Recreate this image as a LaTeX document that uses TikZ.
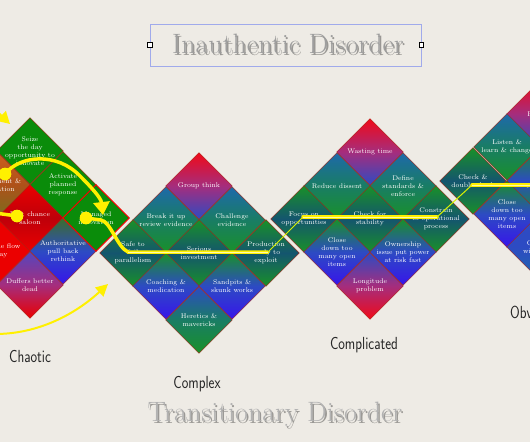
\documentclass[tikz,border=0pt]{standalone}
\usetikzlibrary{shapes.geometric,arrows.meta}
\usepackage{graphicx}

\definecolor{paper}{RGB}{238,235,229}
\definecolor{cR}{RGB}{240,10,25}
\definecolor{cM}{RGB}{165,45,125}
\definecolor{cB}{RGB}{45,75,195}
\definecolor{cV}{RGB}{55,20,235}
\definecolor{cG}{RGB}{25,145,40}
\definecolor{cT}{RGB}{20,85,110}
\definecolor{cTB}{RGB}{30,105,170}
\definecolor{cTG}{RGB}{25,125,100}
\definecolor{cGr}{RGB}{10,140,10}
\definecolor{cRed}{RGB}{235,0,0}
\definecolor{cDRed}{RGB}{190,0,10}
\definecolor{cOr}{RGB}{205,95,30}
\definecolor{cOl}{RGB}{120,110,30}
\definecolor{cOG}{RGB}{60,110,40}
\definecolor{cPB}{RGB}{85,70,190}
\definecolor{yel}{RGB}{255,240,0}
\definecolor{edge}{RGB}{170,35,20}
\definecolor{selblue}{RGB}{160,170,235}

\newcommand\mkcell[6]{%
  \node[cell, sh={#3}{#4}{#5}] (#1) at #2 {};
  \node[ctext] (#1t) at (#1.center) {#6};}

\begin{document}
\begin{tikzpicture}[x=1pt,y=-1pt,
  cell/.style={diamond, minimum width=66.6pt, minimum height=66.6pt, inner sep=0pt, outer sep=0pt,
    draw=edge, line width=0.6pt, draw opacity=0.75},
  sh/.style n args={3}{top color=#1, bottom color=#3, middle color=#2},
  ctext/.style={text=white, align=center, font=\fontsize{6.8}{8.2}\selectfont, inner sep=0pt},
  yl/.style={draw=yel, line width=3.5pt, line cap=round},
  yhl/.style={draw=yel!35!white, line width=1pt},
  ythin/.style={draw=yel!85!green, line width=1pt},
  ydot/.style={circle, fill=yel, minimum size=12.5pt, inner sep=0pt},
  lab/.style={text=black!85, font=\sffamily\fontsize{17.5}{20}\selectfont},
  ttl/.style={font=\fontsize{28}{30}\selectfont, inner sep=0pt}]
\useasboundingbox (0,0) rectangle (530,442);
\clip (0,0) rectangle (530,442);
\fill[paper] (0,0) rectangle (530,442);

% Chaotic
\mkcell{exper}{(-3,185)}{cOr}{cOr!85!black}{cOl}{Experiment \&\\innovation}
\mkcell{seize}{(30,151)}{cGr}{cGr}{cGr}{Seize\\the day\\opportunity to\\innovate}
\mkcell{activ}{(63,185)}{cGr}{cGr}{cGr}{Activate\\planned\\response}
\mkcell{flow}{(-3,251)}{cRed}{cRed}{cRed}{With the flow\\astray}
\mkcell{lastc}{(30,218)}{cRed}{cDRed}{cRed}{Last chance\\saloon}
\mkcell{manag}{(96,218)}{cGr}{cGr}{cGr}{Managed\\innovation}
\mkcell{autho}{(63,251)}{cOG}{cB}{cV}{Authoritative\\pull back\\rethink}
\mkcell{duff}{(30,285)}{cPB}{cM}{cRed}{Duffers better\\dead}
\draw[red, line width=0.9pt] (manag.north) -- (manag.east) -- (manag.south) -- (manag.west) -- cycle;

% Complex
\mkcell{group}{(199,186)}{cR}{cM}{cB}{Group think}
\mkcell{break}{(166,220)}{cTB}{cTG}{cG}{Break it up\\review evidence}
\mkcell{chall}{(232,220)}{cTB}{cTG}{cG}{Challenge\\evidence}
\mkcell{safe}{(133,253)}{cG}{cT}{cG}{Safe to\\fail\\parallelism}
\mkcell{serio}{(199,253)}{cG}{cT}{cG}{Serious\\investment}
\mkcell{produ}{(266,253)}{cG}{cT}{cG}{Production\\ready to\\exploit}
\mkcell{coach}{(166,286)}{cG}{cB}{cV}{Coaching \&\\medication}
\mkcell{sandp}{(232,286)}{cG}{cB}{cV}{Sandpits \&\\skunk works}
\mkcell{heret}{(199,320)}{cB}{cTG}{cG}{Heretics \&\\mavericks}

% Complicated
\mkcell{wasti}{(370,152)}{cR}{cM}{cB}{Wasting time}
\mkcell{reduc}{(337,186)}{cTB}{cTG}{cG}{Reduce dissent}
\mkcell{defin}{(403,186)}{cTB}{cTG}{cG}{Define\\standards \&\\enforce}
\mkcell{focus}{(304,219)}{cG}{cT}{cG}{Focus on\\opportunities}
\mkcell{check}{(370,219)}{cG}{cT}{cG}{Check for\\stability}
\mkcell{const}{(436,219)}{cG}{cT}{cG}{Constrain\\to operational\\process}
\mkcell{close}{(337,252)}{cG}{cB}{cV}{Close\\down too\\many open\\items}
\mkcell{owner}{(403,252)}{cG}{cB}{cV}{Ownership\\issue put power\\at risk fast}
\mkcell{longi}{(370,286)}{cB}{cM}{cR}{Longitude\\problem}

% Obvious
\mkcell{obtop}{(540,114)}{cR}{cM}{cB}{Process}
\mkcell{liste}{(507,147)}{cTB}{cTG}{cG}{Listen \&\\learn \& change}
\mkcell{dbl}{(473,181)}{cG}{cT}{cG}{Check \&\\double check}
\mkcell{obmid}{(540,181)}{cG}{cB}{cG}{Best\\practice}
\mkcell{obclo}{(507,214)}{cG}{cB}{cV}{Close\\down too\\many open\\items}
\mkcell{obbot}{(540,247)}{cB}{cB}{cTB}{Comply\\with rules}

% yellow annotations
\coordinate (a0) at (-20,96);
\coordinate (a1) at (10,124);
\draw[yl, line width=2.5pt, -{Triangle[length=12pt,width=13pt]}] (a0) -- (a1);

\node[ydot] (d1) at (5,174) {};
\node[ydot] (d2) at (17,216) {};
\node[ydot] (d3) at (86,218) {};

\coordinate (b1) at (103,215);
\draw[yl, -{Triangle[length=13pt,width=16pt]}] (d1.center) .. controls (20,155) and (57,152) .. (80,176) .. controls (92,188) and (101,198) .. (b1);

\coordinate (c0) at (-5,213);
\draw[yl] (c0) -- (d2.center);

\coordinate (p1) at (101,220);
\coordinate (p2) at (128,252);
\coordinate (p3) at (268,252);
\coordinate (p4) at (303,217);
\coordinate (p5) at (437,217);
\coordinate (p6) at (472,185);
\coordinate (p7) at (540,185);
\draw[yl] (d3.center) -- (p1) .. controls (111,222) and (117,247) .. (p2) -- (p3);
\draw[ythin] (p3) -- (p4);
\draw[yl] (p4) -- (p5);
\draw[ythin] (p5) -- (p6);
\draw[yl] (p6) -- (p7);
\draw[yhl] (p2) -- (p3);
\draw[yhl] (p4) -- (p5);
\draw[yhl] (p6) -- (p7);

\coordinate (e0) at (-5,334);
\coordinate (e1) at (108,284);
\draw[yl, line width=2pt, -{Triangle[length=12pt,width=12pt]}] (e0) .. controls (45,334) and (82,308) .. (e1);

\node[ydot] at (d1) {};
\node[ydot] at (d2) {};
\node[ydot] at (d3) {};

% domain labels
\node[lab] (lchaotic) at (30,356) {\scalebox{0.8}[1]{Chaotic}};
\node[lab] (lcomplex) at (197,384) {\scalebox{0.8}[1]{Complex}};
\node[lab] (lcomplic) at (364,345) {\scalebox{0.8}[1]{Complicated}};
\node[lab, anchor=west, inner sep=0pt] (lobvious) at (510,312) {\scalebox{0.8}[1]{Obvious}};

% titles
\draw[selblue, line width=0.6pt] (150,24) rectangle (421,66);
\node[draw, fill=white, minimum size=4.5pt, inner sep=0pt, line width=0.5pt] (h1) at (149.5,44.5) {};
\node[draw, fill=white, minimum size=4.5pt, inner sep=0pt, line width=0.5pt] (h2) at (421,44.5) {};
\node[ttl, text=black, opacity=0.35, anchor=base] (tsh) at (289.5,55.5) {Inauthentic Disorder};
\node[ttl, text=black!38, anchor=base] (title) at (288,53) {Inauthentic Disorder};
\node[ttl, text=black, opacity=0.35, anchor=base] (ssh) at (276.5,423.5) {Transitionary Disorder};
\node[ttl, text=black!30, anchor=base] (subtitle) at (275,421) {Transitionary Disorder};
\end{tikzpicture}
\end{document}
